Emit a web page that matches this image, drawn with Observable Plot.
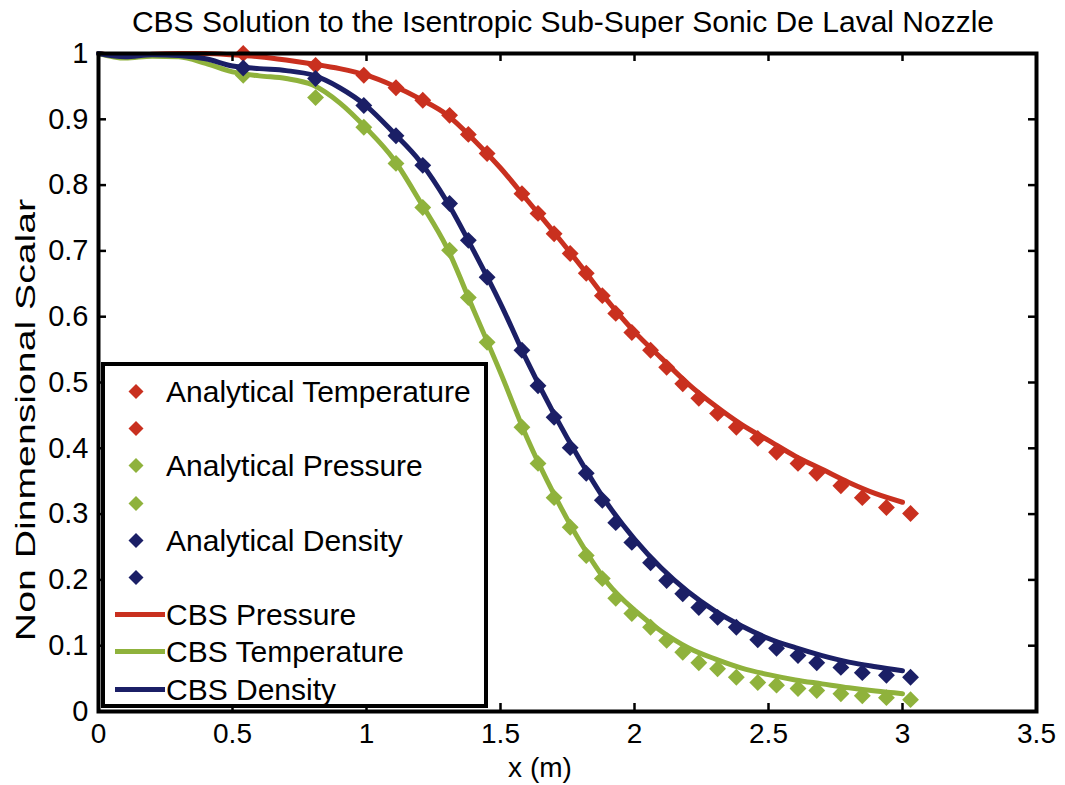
<!DOCTYPE html>
<html><head><meta charset="utf-8">
<script src="https://cdn.jsdelivr.net/npm/d3@7"></script>
<script src="https://cdn.jsdelivr.net/npm/@observablehq/plot@0.6"></script>
<style>
html,body{margin:0;padding:0;background:#fff;}
body{font-family:"Liberation Sans",Arial,Helvetica,sans-serif;color:#000;}
#wrap{position:relative;width:1065px;height:785px;overflow:hidden;}
#title{position:absolute;left:0;width:1126px;top:5px;text-align:center;font-size:30px;white-space:nowrap;}
#xlabel{position:absolute;left:0;width:1080px;top:752px;text-align:center;font-size:28px;}
#ylabel{position:absolute;left:26px;top:420px;transform:translate(-50%,-50%) rotate(-90deg) scale(1.4,1);font-size:28px;white-space:nowrap;}
#legend{position:absolute;left:101px;top:362px;width:387px;height:346px;border:4px solid #000;background:#fff;box-sizing:border-box;}
.row{position:absolute;left:0;height:37px;}
.row svg{position:absolute;left:0;top:0;}
.row span{position:absolute;left:61px;font-size:30px;white-space:nowrap;line-height:37px;top:0;}
</style>
</head><body>
<div id="wrap">
  <div id="plot"></div>
  <div id="title">CBS Solution to the Isentropic Sub-Super Sonic De Laval Nozzle</div>
  <div id="xlabel">x (m)</div>
  <div id="ylabel">Non Dinmensional Scalar</div>
  <div id="legend"></div>
</div>
<script>
const xTicks = [0, 0.5, 1, 1.5, 2, 2.5, 3, 3.5];
const yTicks = [0, 0.1, 0.2, 0.3, 0.4, 0.5, 0.6, 0.7, 0.8, 0.9, 1];

// Analytical (diamond markers)
const xAnalytical = [0.54,0.81,0.99,1.11,1.21,1.31,1.38,1.45,1.58,1.64,1.70,1.76,1.82,1.88,1.93,1.99,2.06,2.12,2.18,2.24,2.31,2.38,2.46,2.53,2.61,2.68,2.77,2.85,2.94,3.03];
const analyticalTemperature = [1.0,0.982,0.967,0.948,0.929,0.906,0.877,0.848,0.787,0.757,0.726,0.696,0.666,0.632,0.605,0.576,0.549,0.523,0.498,0.476,0.453,0.432,0.415,0.394,0.377,0.362,0.343,0.325,0.310,0.301];
const analyticalPressure = [0.967,0.933,0.888,0.833,0.766,0.701,0.629,0.561,0.432,0.377,0.325,0.280,0.237,0.202,0.172,0.149,0.128,0.108,0.090,0.074,0.065,0.052,0.044,0.040,0.035,0.032,0.027,0.024,0.021,0.018];
const analyticalDensity = [0.978,0.962,0.921,0.875,0.830,0.772,0.716,0.660,0.549,0.495,0.447,0.401,0.362,0.321,0.287,0.257,0.226,0.199,0.179,0.158,0.143,0.128,0.109,0.096,0.085,0.074,0.067,0.059,0.055,0.052];

// CBS solution (lines)
const xCBS = [0,0.1,0.2,0.3,0.4,0.5,0.6,0.7,0.8,0.9,1.0,1.1,1.2,1.3,1.4,1.5,1.6,1.7,1.8,1.9,2.0,2.1,2.2,2.3,2.4,2.5,2.6,2.7,2.8,2.9,3.0];
const cbsPressure = [1.0,0.996,0.999,1.0,1.0,0.998,0.995,0.99,0.984,0.977,0.967,0.951,0.931,0.907,0.869,0.826,0.777,0.728,0.677,0.624,0.577,0.537,0.498,0.465,0.436,0.412,0.388,0.368,0.348,0.331,0.318];
const cbsTemperature = [1.0,0.993,0.996,0.995,0.985,0.972,0.966,0.962,0.952,0.925,0.886,0.84,0.775,0.705,0.61,0.515,0.415,0.33,0.256,0.195,0.154,0.122,0.097,0.08,0.066,0.056,0.048,0.042,0.036,0.031,0.027];
const cbsDensity = [1.0,0.995,0.998,0.997,0.992,0.981,0.977,0.974,0.967,0.948,0.92,0.88,0.836,0.775,0.70,0.62,0.532,0.452,0.38,0.315,0.262,0.218,0.182,0.153,0.13,0.111,0.097,0.085,0.075,0.068,0.062];

const RED = "#c9301f", GREEN = "#8fb23c", BLUE = "#1b1f66";

const legendLabels = ["Analytical Temperature","","Analytical Pressure","","Analytical Density","","CBS Pressure","CBS Temperature","CBS Density"];
const legendColors = [RED, RED, GREEN, GREEN, BLUE, BLUE, RED, GREEN, BLUE];
const legendKinds = ["dot","dot","dot","dot","dot","dot","line","line","line"];

const toRows = (xs, ys) => xs.map((x, i) => ({x, y: ys[i]}));

const W = 1065, H = 785, ML = 98, MR = 29, MT = 53, MB = 74;
const innerW = W - ML - MR, innerH = H - MT - MB;
const tickLen = 8;

const plot = Plot.plot({
  width: W, height: H,
  marginLeft: ML, marginRight: MR, marginTop: MT, marginBottom: MB,
  style: {fontFamily: "Liberation Sans, Arial, sans-serif", background: "transparent", color: "#000"},
  x: {domain: [0, 3.5]},
  y: {domain: [0, 1]},
  marks: [
    Plot.line(toRows(xCBS, cbsPressure), {x: "x", y: "y", stroke: RED, strokeWidth: 5, curve: "monotone-x"}),
    Plot.line(toRows(xCBS, cbsTemperature), {x: "x", y: "y", stroke: GREEN, strokeWidth: 5, curve: "monotone-x"}),
    Plot.line(toRows(xCBS, cbsDensity), {x: "x", y: "y", stroke: BLUE, strokeWidth: 5, curve: "monotone-x"}),
    Plot.dot(toRows(xAnalytical, analyticalTemperature), {x: "x", y: "y", symbol: "diamond2", r: 7.6, fill: RED, stroke: "none"}),
    Plot.dot(toRows(xAnalytical, analyticalPressure), {x: "x", y: "y", symbol: "diamond2", r: 7.6, fill: GREEN, stroke: "none"}),
    Plot.dot(toRows(xAnalytical, analyticalDensity), {x: "x", y: "y", symbol: "diamond2", r: 7.6, fill: BLUE, stroke: "none"}),
    // inward ticks on all four sides
    Plot.ruleX(xTicks, {x: d => d, insetTop: innerH - tickLen, stroke: "#000", strokeWidth: 2.5}),
    Plot.ruleX(xTicks, {x: d => d, insetBottom: innerH - tickLen, stroke: "#000", strokeWidth: 2.5}),
    Plot.ruleY(yTicks, {y: d => d, insetRight: innerW - tickLen, stroke: "#000", strokeWidth: 2.5}),
    Plot.ruleY(yTicks, {y: d => d, insetLeft: innerW - tickLen, stroke: "#000", strokeWidth: 2.5}),
    Plot.frame({stroke: "#000", strokeWidth: 4}),
    Plot.axisX(xTicks, {tickSize: 0, tickPadding: 12, fontSize: 28, label: null, tickFormat: d => String(d)}),
    Plot.axisY(yTicks, {tickSize: 0, tickPadding: 10, fontSize: 29, label: null, tickFormat: d => String(d)})
  ]
});
document.getElementById("plot").appendChild(plot);

// legend
const lg = document.getElementById("legend");
legendLabels.forEach((lab, i) => {
  const row = document.createElement("div");
  row.className = "row";
  row.style.top = (7 + i * 37.2) + "px";
  row.style.width = "375px";
  const ns = "http://www.w3.org/2000/svg";
  const s = document.createElementNS(ns, "svg");
  s.setAttribute("width", "60"); s.setAttribute("height", "37");
  if (legendKinds[i] === "dot") {
    const p = document.createElementNS(ns, "path");
    const cx = 31, cy = 18.5, r = 7.5;
    p.setAttribute("d", `M${cx},${cy - r}L${cx + r},${cy}L${cx},${cy + r}L${cx - r},${cy}Z`);
    p.setAttribute("fill", legendColors[i]);
    s.appendChild(p);
  } else {
    const l = document.createElementNS(ns, "line");
    l.setAttribute("x1", "10"); l.setAttribute("x2", "60");
    l.setAttribute("y1", "18.5"); l.setAttribute("y2", "18.5");
    l.setAttribute("stroke", legendColors[i]); l.setAttribute("stroke-width", "5");
    s.appendChild(l);
  }
  row.appendChild(s);
  const t = document.createElement("span");
  t.textContent = lab;
  row.appendChild(t);
  lg.appendChild(row);
});
</script>
</body></html>
